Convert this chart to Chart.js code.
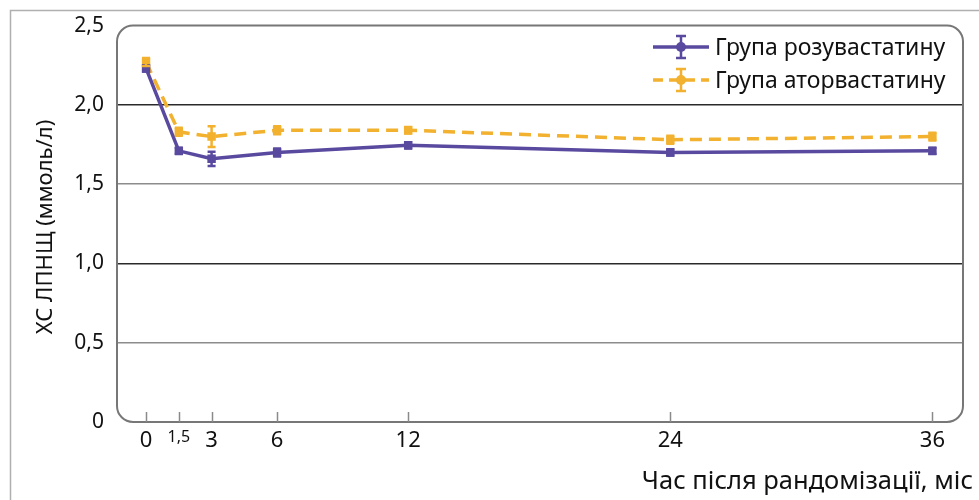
<!DOCTYPE html>
<html><head><meta charset="utf-8">
<script src="https://cdn.jsdelivr.net/npm/chart.js@4"></script>
<style>html,body{margin:0;padding:0;background:#fff}#w{width:979px;height:500px}</style>
</head><body><div id="w"><canvas id="c" width="979" height="500"></canvas></div>
<script>
const months = [0, 1.5, 3, 6, 12, 24, 36];
const xTicks = [0, 1.5, 3, 6, 12, 24, 36];
const yTicks = [0, 0.5, 1.0, 1.5, 2.0, 2.5];
const rosuValues = [2.23, 1.71, 1.66, 1.70, 1.745, 1.70, 1.71];
const rosuErrors = [0.02, 0.02, 0.045, 0.025, 0.02, 0.02, 0.02];
const atorValues = [2.27, 1.83, 1.80, 1.84, 1.84, 1.78, 1.80];
const atorErrors = [0.025, 0.025, 0.065, 0.025, 0.02, 0.025, 0.025];
const seriesNames = ['Група розувастатину', 'Група аторвастатину'];
const yTitle = 'ХС ЛПНЩ (ммоль/л)';
const xTitle = 'Час після рандомізації, міс';

const PURPLE = '#5a4a9f';
const ORANGE = '#f2b12e';
const FONT = '"Noto Sans", "Open Sans", sans-serif';

const toXY = (vals) => vals.map((v, i) => ({x: months[i], y: v}));

const decor = {
  id: 'decor',
  beforeDraw(chart) {
    const ctx = chart.ctx;
    ctx.save();
    ctx.strokeStyle = '#b0b0b0'; ctx.lineWidth = 1.5;
    ctx.beginPath(); ctx.moveTo(10.5, 500); ctx.lineTo(10.5, 10.5); ctx.lineTo(979, 10.5); ctx.stroke();
    ctx.restore();
  },
  beforeDatasetsDraw(chart) {
    const ctx = chart.ctx, a = chart.chartArea, xs = chart.scales.x;
    ctx.save();
    const r = 16;
    ctx.strokeStyle = '#777'; ctx.lineWidth = 2;
    ctx.beginPath();
    ctx.moveTo(a.left + r, a.top); ctx.lineTo(a.right - r, a.top);
    ctx.arcTo(a.right, a.top, a.right, a.top + r, r);
    ctx.lineTo(a.right, a.bottom - r);
    ctx.arcTo(a.right, a.bottom, a.right - r, a.bottom, r);
    ctx.lineTo(a.left + r, a.bottom);
    ctx.arcTo(a.left, a.bottom, a.left, a.bottom - r, r);
    ctx.lineTo(a.left, a.top + r);
    ctx.arcTo(a.left, a.top, a.left + r, a.top, r);
    ctx.stroke();
    ctx.strokeStyle = '#8a8a8a'; ctx.lineWidth = 1.5;
    xTicks.forEach(v => {
      const px = Math.round(xs.getPixelForValue(v)) + 0.5;
      ctx.beginPath(); ctx.moveTo(px, a.bottom); ctx.lineTo(px, a.bottom - 10); ctx.stroke();
    });
    ctx.restore();
  },
  afterDatasetsDraw(chart) {
    const ctx = chart.ctx, xs = chart.scales.x, ys = chart.scales.y;
    const sets = [[rosuValues, rosuErrors, PURPLE], [atorValues, atorErrors, ORANGE]];
    ctx.save();
    ctx.lineWidth = 2.5;
    sets.forEach(([vals, errs, col]) => {
      ctx.strokeStyle = col;
      vals.forEach((v, i) => {
        const px = xs.getPixelForValue(months[i]);
        const y1 = ys.getPixelForValue(v + errs[i]), y2 = ys.getPixelForValue(v - errs[i]);
        ctx.beginPath();
        ctx.moveTo(px, y1); ctx.lineTo(px, y2);
        ctx.moveTo(px - 4, y1); ctx.lineTo(px + 4, y1);
        ctx.moveTo(px - 4, y2); ctx.lineTo(px + 4, y2);
        ctx.stroke();
      });
    });
    const items = [[seriesNames[0], PURPLE, []], [seriesNames[1], ORANGE, [10, 6]]];
    items.forEach(([name, col, dash], k) => {
      const y = 47 + k * 33;
      ctx.strokeStyle = col; ctx.lineWidth = 3.5; ctx.setLineDash(dash);
      ctx.beginPath(); ctx.moveTo(653, y); ctx.lineTo(709, y); ctx.stroke();
      ctx.setLineDash([]); ctx.lineWidth = 2.5;
      ctx.beginPath();
      ctx.moveTo(681, y - 11); ctx.lineTo(681, y + 11);
      ctx.moveTo(676, y - 11); ctx.lineTo(686, y - 11);
      ctx.moveTo(676, y + 11); ctx.lineTo(686, y + 11);
      ctx.stroke();
      ctx.fillStyle = col; ctx.beginPath(); ctx.arc(681, y, 5, 0, Math.PI * 2); ctx.fill();
      ctx.fillStyle = '#111'; ctx.font = '23px ' + FONT; ctx.textBaseline = 'middle'; ctx.textAlign = 'left';
      ctx.fillText(name, 715, y + 1);
    });
    ctx.fillStyle = '#111';
    ctx.font = '22px ' + FONT; ctx.textAlign = 'center'; ctx.textBaseline = 'middle';
    ctx.save(); ctx.translate(46, 227); ctx.rotate(-Math.PI / 2); ctx.fillText(yTitle, 0, 0); ctx.restore();
    ctx.font = '25.5px ' + FONT; ctx.textAlign = 'right';
    ctx.fillText(xTitle, 973, 482);
    ctx.restore();
  }
};

new Chart(document.getElementById('c'), {
  type: 'line',
  data: {
    datasets: [
      {label: seriesNames[0], data: toXY(rosuValues), borderColor: PURPLE, backgroundColor: PURPLE,
       borderWidth: 3.5, pointRadius: 3.5, pointStyle: 'rect', tension: 0},
      {label: seriesNames[1], data: toXY(atorValues), borderColor: ORANGE, backgroundColor: ORANGE,
       borderWidth: 3.5, borderDash: [12, 7], pointRadius: 3.5, pointStyle: 'rect', tension: 0}
    ]
  },
  options: {
    responsive: false, animation: false,
    layout: {padding: {top: 25, right: 16, left: 0, bottom: 0}},
    plugins: {legend: {display: false}, tooltip: {enabled: false}},
    scales: {
      x: {
        type: 'linear', min: -1.33, max: 37.4,
        afterBuildTicks(s) { s.ticks = xTicks.map(v => ({value: v})); },
        afterFit(s) { s.height = 78; },
        grid: {display: false, drawTicks: false},
        border: {display: false},
        ticks: {
          padding: 6, color: '#111', maxRotation: 0, autoSkip: false,
          font: (c) => ({family: FONT, size: c.tick && c.tick.value === 1.5 ? 16 : 22}),
          callback: (v) => String(v).replace('.', ',')
        }
      },
      y: {
        min: 0, max: 2.5,
        afterBuildTicks(s) { s.ticks = yTicks.map(v => ({value: v})); },
        afterFit(s) { s.width = 117; },
        grid: {
          drawTicks: false,
          color: (c) => (c.tick.value === 2 || c.tick.value === 1) ? '#2a2a2a' : (c.tick.value === 0 || c.tick.value === 2.5 ? 'rgba(0,0,0,0)' : '#8c8c8c'),
          lineWidth: 1.5
        },
        border: {display: false},
        ticks: {
          padding: 13, color: '#111', font: {family: FONT, size: 21},
          callback: (v) => v === 0 ? '0' : v.toFixed(1).replace('.', ',')
        }
      }
    }
  },
  plugins: [decor]
});
</script></body></html>
